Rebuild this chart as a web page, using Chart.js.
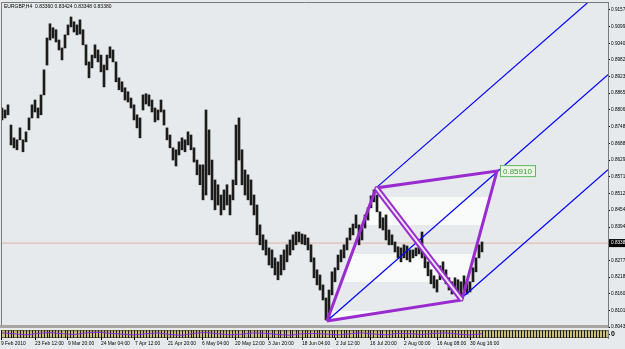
<!DOCTYPE html>
<html>
<head>
<meta charset="utf-8">
<script src="https://cdn.jsdelivr.net/npm/chart.js@4"></script>
<style>
body { margin:0; width:625px; height:349px; overflow:hidden; position:relative; background:#e6eaec; font-family:'Liberation Sans', Arial, sans-serif; }
canvas { position:absolute; left:0; }
</style>
</head>
<body>
<script>
// EURGBP H4, one column = 3px on screen
const highs = [
	0.8813,0.8806,0.8824,0.8753,0.8708,0.8701,0.8743,0.8701,0.8729,0.8778,
	0.8824,0.8841,0.8813,0.8859,0.8947,0.9059,0.9109,0.9095,0.9088,0.9052,
	0.9024,0.9070,0.9105,0.9133,0.9116,0.9105,0.9123,0.9088,0.9035,0.8975,
	0.8999,0.9035,0.9017,0.8999,0.8964,0.8999,0.9028,0.9017,0.8975,0.8919,
	0.8905,0.8884,0.8870,0.8848,0.8824,0.8789,0.8778,0.8859,0.8863,0.8859,
	0.8841,0.8813,0.8806,0.8841,0.8806,0.8743,0.8718,0.8673,0.8666,0.8694,
	0.8708,0.8701,0.8729,0.8718,0.8673,0.8630,0.8613,0.8613,0.8806,0.8736,
	0.8630,0.8560,0.8543,0.8507,0.8525,0.8543,0.8507,0.8560,0.8753,0.8778,
	0.8666,0.8595,0.8578,0.8560,0.8507,0.8472,0.8402,0.8367,0.8349,0.8321,
	0.8314,0.8286,0.8272,0.8296,0.8314,0.8332,0.8349,0.8367,0.8377,0.8377,
	0.8370,0.8367,0.8356,0.8332,0.8286,0.8244,0.8226,0.8191,0.8145,0.8173,
	0.8237,0.8251,0.8296,0.8314,0.8332,0.8356,0.8391,0.8405,0.8437,0.8402,
	0.8391,0.8437,0.8462,0.8504,0.8525,0.8507,0.8448,0.8427,0.8437,0.8384,
	0.8367,0.8342,0.8325,0.8321,0.8332,0.8328,0.8314,0.8314,0.8321,0.8332,
	0.8377,0.8314,0.8272,0.8244,0.8223,0.8209,0.8258,0.8272,0.8244,0.8216,
	0.8202,0.8216,0.8209,0.8202,0.8223,0.8202,0.8202,0.8251,0.8286,0.8332,0.8342]
const lows = [
	0.8771,0.8778,0.8789,0.8683,0.8673,0.8666,0.8701,0.8659,0.8694,0.8736,
	0.8778,0.8799,0.8778,0.8789,0.8859,0.8964,0.9052,0.9059,0.9045,0.9017,
	0.8982,0.9024,0.9070,0.9098,0.9080,0.9070,0.9073,0.9035,0.8964,0.8919,
	0.8954,0.8989,0.8975,0.8940,0.8887,0.8947,0.8989,0.8975,0.8905,0.8877,
	0.8870,0.8841,0.8834,0.8813,0.8771,0.8743,0.8708,0.8806,0.8827,0.8820,
	0.8799,0.8764,0.8771,0.8799,0.8753,0.8701,0.8673,0.8630,0.8609,0.8648,
	0.8666,0.8659,0.8683,0.8666,0.8623,0.8578,0.8543,0.8490,0.8507,0.8578,
	0.8490,0.8455,0.8472,0.8437,0.8455,0.8472,0.8437,0.8490,0.8543,0.8630,
	0.8543,0.8507,0.8490,0.8472,0.8437,0.8367,0.8332,0.8314,0.8296,0.8261,
	0.8251,0.8226,0.8209,0.8226,0.8244,0.8272,0.8296,0.8314,0.8332,0.8342,
	0.8335,0.8332,0.8314,0.8272,0.8216,0.8191,0.8173,0.8138,0.8068,0.8075,
	0.8156,0.8202,0.8244,0.8272,0.8286,0.8314,0.8349,0.8367,0.8391,0.8332,
	0.8349,0.8391,0.8419,0.8462,0.8483,0.8448,0.8391,0.8384,0.8349,0.8332,
	0.8332,0.8307,0.8286,0.8272,0.8286,0.8279,0.8272,0.8286,0.8293,0.8300,
	0.8286,0.8251,0.8223,0.8195,0.8180,0.8166,0.8209,0.8230,0.8195,0.8173,
	0.8159,0.8166,0.8149,0.8145,0.8173,0.8159,0.8166,0.8202,0.8237,0.8286,0.8307]

// purple line in the bottom window, one value every 4 columns
const oscValues = [0.3,0.1,-0.2,0.2,0.4,0.1,-0.1,0.3,0.5,0.2,0,-0.2,0.1,0.3,-0.1,-0.3,0.2,0.4,0.1,-0.2,
	0,0.3,0.2,-0.1,-0.3,0.1,0.2,0,-0.2,0.1,0.3,0,-0.2,0.2,0.1,-0.1,0.2,0.3,0,-0.2,0.1]

const priceTicks = [0.91575,0.90990,0.90405,0.89820,0.89235,0.88650,0.88065,0.87480,0.86880,0.86295,
	0.85710,0.85125,0.84540,0.83940,0.83355,0.82770,0.82185,0.81600,0.81015,0.80430]
const dateLabels = ['9 Feb 2010','23 Feb 12:00','9 Mar 20:00','24 Mar 04:00','7 Apr 12:00','21 Apr 20:00','6 May 04:00',
	'20 May 12:00','3 Jun 20:00','18 Jun 04:00','2 Jul 12:00','16 Jul 20:00','2 Aug 00:00','16 Aug 08:00','30 Aug 16:00']
const dateTickIdx = [-0.33,11,22,33,44.3,55.3,66.7,77.7,88.7,100,111.3,122.7,134,145,156]

const quote = 'EURGBP,H4  0.83360 0.83424 0.83348 0.83380'
const lastPrice = 0.8338
const lastPriceText = '0.83380'

// pitchfork and the diamond drawn on the chart
const medianLine = [[108.3,0.8064],[202,0.8930]]
const upperLine = [[124.7,0.8532],[202,0.9246]]
const lowerLine = [[154,0.8152],[202,0.8596]]
const diamond = [[108.3,0.8064],[124.7,0.8532],[165,0.8591],[153.3,0.8138],[108.3,0.8064]]
const diagonal = [[124.7,0.8532],[153.3,0.8138]]
const diamondLabel = '0.85910'

const el = o => {
	const e = document.createElement(o.a)
	;(o.b || document.body).appendChild(e)
	if (o.c) e.textContent = o.c
	for (const k in (o.d || {})) e.setAttribute(k, o.d[k])
	return e
}
const pts = a => a.map(p => ({x:p[0], y:p[1]}))
const font = {family:'Liberation Sans', size:4.7}
const xMin = -1/3, xMax = 202

// white bands inside the diamond
const bands = (() => {
	const c = document.createElement('canvas')
	c.width = 1; c.height = 57
	const g = c.getContext('2d')
	g.fillStyle = 'rgba(255,255,255,0.75)'
	g.fillRect(0, 29, 1, 28)
	return g.createPattern(c, 'repeat')
})()

const frame = {
	id:'frame',
	afterDraw: c => {
		const {ctx, chartArea:a} = c
		ctx.save()
		ctx.strokeStyle = '#7a7a7a'
		ctx.lineWidth = 1
		ctx.beginPath()
		ctx.moveTo(a.left + 0.5, a.bottom); ctx.lineTo(a.left + 0.5, a.top + 0.5); ctx.lineTo(a.right, a.top + 0.5)
		ctx.stroke()
		// price box on the axis
		const y = c.scales.y.getPixelForValue(lastPrice)
		ctx.fillStyle = '#000'
		ctx.fillRect(a.right + 1, y - 4, 16, 8)
		ctx.fillStyle = '#fff'
		ctx.font = '4.7px "Liberation Sans"'
		ctx.textBaseline = 'middle'
		ctx.fillText(lastPriceText, a.right + 3, y)
		// label at the diamond corner
		const cx = c.scales.x.getPixelForValue(diamond[2][0]), cy = c.scales.y.getPixelForValue(diamond[2][1])
		ctx.fillStyle = '#eef5e8'
		ctx.strokeStyle = '#5cb85c'
		ctx.fillRect(cx + 3, cy - 6, 36, 12)
		ctx.strokeRect(cx + 3.5, cy - 5.5, 35, 11)
		ctx.fillStyle = '#3a9a3a'
		ctx.font = '8px "Liberation Sans"'
		ctx.fillText(diamondLabel, cx + 6, cy + 0.5)
		ctx.restore()
	}
}

;(a => {
	a.width = 625; a.height = 335
	new Chart(a, {
		type:'bar',
		data:{ datasets:[
			{type:'line', data:pts(diamond), fill:'shape', backgroundColor:bands, borderWidth:0, pointRadius:0, order:10},
			{type:'line', data:[{x:xMin, y:lastPrice},{x:xMax, y:lastPrice}], borderColor:'#dcb4a4', borderWidth:1, pointRadius:0, order:8},
			{data:highs.map((h,i) => ({x:i, y:[lows[i], h]})), backgroundColor:'#1c1c1c', barThickness:2, order:5},
			{type:'line', data:pts(medianLine), borderColor:'#0000ff', borderWidth:1.2, pointRadius:0, order:3},
			{type:'line', data:pts(upperLine), borderColor:'#0000ff', borderWidth:1.2, pointRadius:0, order:3},
			{type:'line', data:pts(lowerLine), borderColor:'#0000ff', borderWidth:1.2, pointRadius:0, order:3},
			{type:'line', data:pts(diamond), borderColor:'#9a2bd0', borderWidth:3, pointRadius:0, order:2},
			{type:'line', data:pts(diagonal), borderColor:'#9a2bd0', borderWidth:6, pointRadius:0, order:2},
			{type:'line', data:pts(diagonal), borderColor:'#ece6f2', borderWidth:2, pointRadius:0, order:1},
		]},
		options:{
			responsive:false, animation:false, events:[],
			layout:{ padding:{left:1, top:5, right:0, bottom:5} },
			plugins:{ legend:{display:false}, tooltip:{enabled:false} },
			scales:{
				x:{ type:'linear', min:xMin, max:xMax, offset:false, display:false, grid:{offset:false} },
				y:{
					position:'right', min:0.8043, max:0.91856, beginAtZero:false,
					afterBuildTicks: s => { s.ticks = priceTicks.map(v => ({value:v})) },
					afterFit: s => { s.width = 17 },
					ticks:{ autoSkip:false, font, color:'#000', padding:1, callback: v => v.toFixed(5) },
					grid:{ drawOnChartArea:false, tickLength:2, color:'#000' },
					border:{ color:'#7a7a7a' }
				}
			}
		},
		plugins:[frame]
	})
})(el({a:'canvas', d:{style:'top:-3px;'}}))

const strip = {
	id:'strip',
	beforeDraw: c => {
		const {ctx, chartArea:a} = c
		ctx.save()
		ctx.fillStyle = '#a6a6a6'
		ctx.fillRect(0, 0, a.right, 3)
		ctx.fillStyle = '#cbbf7c'
		ctx.fillRect(a.left, a.top, a.right - a.left, a.bottom - a.top)
		ctx.strokeStyle = '#6b6440'
		ctx.strokeRect(a.left + 0.5, a.top + 0.5, a.right - a.left, a.bottom - a.top - 1)
		ctx.restore()
	}
}

;(a => {
	a.width = 625; a.height = 24
	new Chart(a, {
		type:'line',
		data:{ datasets:[
			{data:oscValues.map((v,i) => ({x:i*4, y:v})), borderColor:'#8a2be2', borderWidth:1, pointRadius:0}
		]},
		options:{
			responsive:false, animation:false, events:[],
			layout:{ padding:{left:1, top:4, right:0, bottom:0} },
			plugins:{ legend:{display:false}, tooltip:{enabled:false} },
			scales:{
				x:{
					type:'linear', min:xMin, max:xMax,
					afterBuildTicks: s => { s.ticks = dateTickIdx.map(v => ({value:v})) },
					afterFit: s => { s.height = 11 },
					ticks:{ autoSkip:false, maxRotation:0, align:'start', padding:1, font:{family:'Liberation Sans', size:4.9}, color:'#000', callback: (v, i) => dateLabels[i] },
					grid:{ drawOnChartArea:false, tickLength:2, color:'#000' },
					border:{ display:false }
				},
				xg:{
					type:'linear', position:'bottom', min:xMin, max:xMax,
					afterFit: s => { s.height = 0 },
					ticks:{ display:false, stepSize:1 },
					grid:{ color:'#1a1a1a', drawTicks:false },
					border:{ display:false }
				},
				y:{
					position:'right', min:-1, max:1,
					afterBuildTicks: s => { s.ticks = [{value:0}] },
					afterFit: s => { s.width = 17 },
					ticks:{ font:{family:'Liberation Sans', size:7, weight:'bold'}, color:'#000', padding:1 },
					grid:{ drawOnChartArea:false, tickLength:2, color:'#000' },
					border:{ color:'#7a7a7a' }
				}
			}
		},
		plugins:[strip]
	})
})(el({a:'canvas', d:{style:'top:325px;'}}))

el({a:'div', c:quote, d:{style:'position:absolute; left:4px; top:3px; font-size:5px; color:#000; white-space:pre;'}})
</script>
</body>
</html>
